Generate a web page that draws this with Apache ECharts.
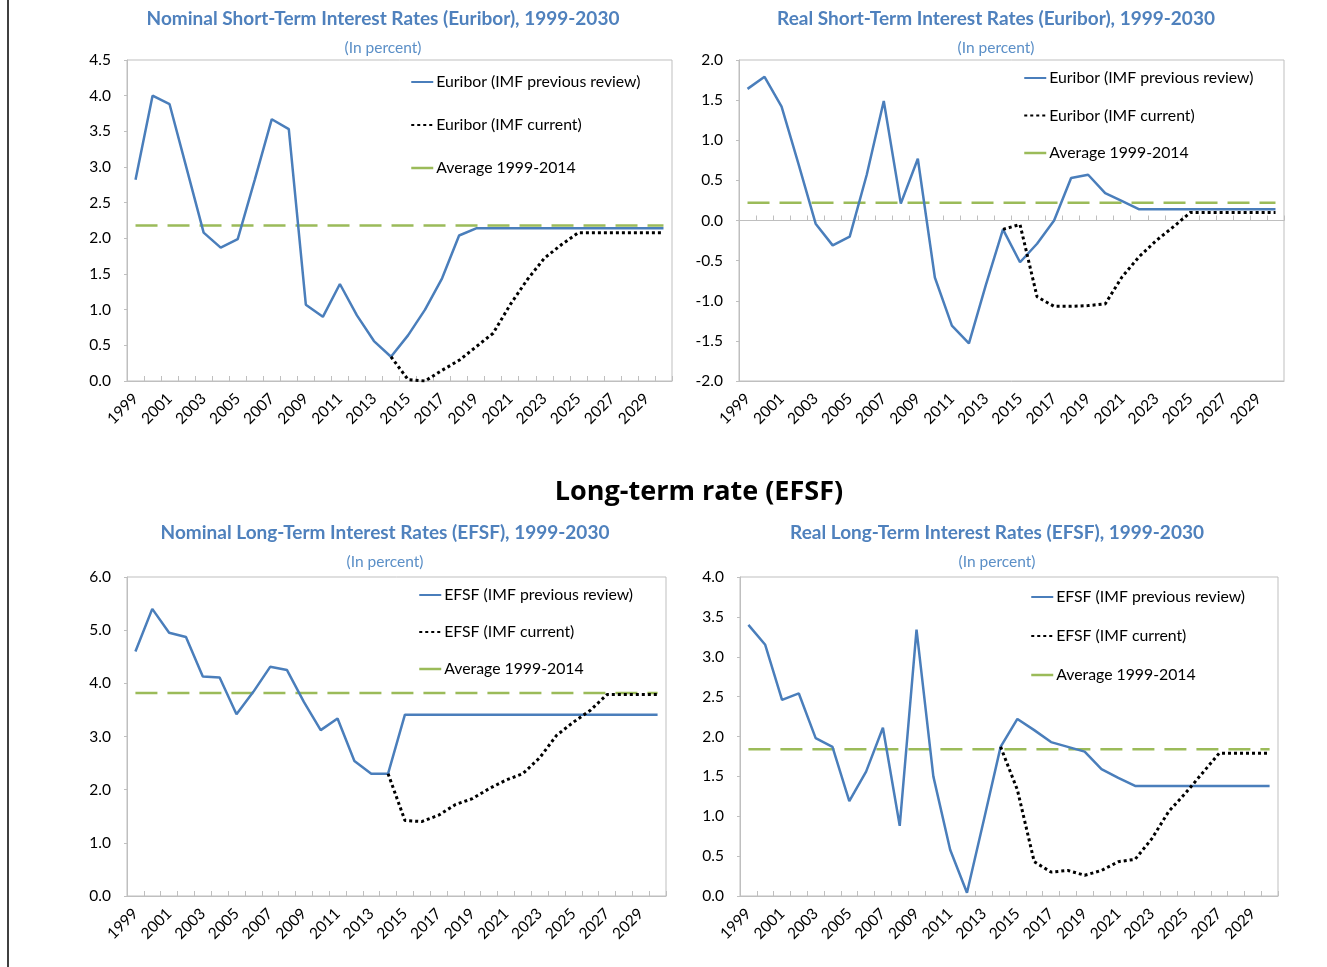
<!DOCTYPE html>
<html>
<head>
<meta charset="utf-8">
<title>Euribor / EFSF interest rates</title>
<script src="https://cdn.jsdelivr.net/npm/echarts@6/dist/echarts.min.js"></script>
<style>
  html, body { margin: 0; padding: 0; background: #fff; }
  #chart { width: 1327px; height: 967px; }
</style>
</head>
<body>
<div id="chart"></div>
<script>
// categories
const years = ['1999', '2000', '2001', '2002', '2003', '2004', '2005', '2006', '2007', '2008',
  '2009', '2010', '2011', '2012', '2013', '2014', '2015', '2016', '2017', '2018', '2019', '2020',
  '2021', '2022', '2023', '2024', '2025', '2026', '2027', '2028', '2029', '2030']

// nominal short-term (Euribor)
const nominalShortPrev = [2.82, 4.00, 3.88, 2.98, 2.08, 1.87, 1.99, 2.82, 3.67, 3.53, 1.07, 0.90,
  1.36, 0.92, 0.56, 0.34, 0.64, 1.00, 1.44, 2.04, 2.14, 2.14, 2.14, 2.14, 2.14, 2.14, 2.14, 2.14,
  2.14, 2.14, 2.14, 2.14]
const nominalShortCurr = [null, null, null, null, null, null, null, null, null, null, null, null,
  null, null, null, 0.34, 0.02, 0.00, 0.15, 0.29, 0.48, 0.67, 1.07, 1.42, 1.72, 1.91, 2.08, 2.08,
  2.08, 2.08, 2.08, 2.08]
const nominalShortAvg = [2.18, 2.18, 2.18, 2.18, 2.18, 2.18, 2.18, 2.18, 2.18, 2.18, 2.18, 2.18,
  2.18, 2.18, 2.18, 2.18, 2.18, 2.18, 2.18, 2.18, 2.18, 2.18, 2.18, 2.18, 2.18, 2.18, 2.18, 2.18,
  2.18, 2.18, 2.18, 2.18]

// real short-term (Euribor)
const realShortPrev = [1.64, 1.79, 1.42, 0.70, -0.04, -0.31, -0.20, 0.57, 1.49, 0.21, 0.77, -0.71,
  -1.31, -1.53, -0.80, -0.11, -0.52, -0.29, 0.00, 0.53, 0.57, 0.34, 0.24, 0.14, 0.14, 0.14, 0.14,
  0.14, 0.14, 0.14, 0.14, 0.14]
const realShortCurr = [null, null, null, null, null, null, null, null, null, null, null, null,
  null, null, null, -0.11, -0.05, -0.95, -1.07, -1.07, -1.06, -1.04, -0.70, -0.45, -0.25, -0.08,
  0.10, 0.10, 0.10, 0.10, 0.10, 0.10]
const realShortAvg = [0.22, 0.22, 0.22, 0.22, 0.22, 0.22, 0.22, 0.22, 0.22, 0.22, 0.22, 0.22,
  0.22, 0.22, 0.22, 0.22, 0.22, 0.22, 0.22, 0.22, 0.22, 0.22, 0.22, 0.22, 0.22, 0.22, 0.22, 0.22,
  0.22, 0.22, 0.22, 0.22]

// nominal long-term (EFSF)
const nominalLongPrev = [4.60, 5.40, 4.95, 4.87, 4.13, 4.11, 3.42, 3.84, 4.31, 4.25, 3.65, 3.12,
  3.34, 2.54, 2.30, 2.30, 3.41, 3.41, 3.41, 3.41, 3.41, 3.41, 3.41, 3.41, 3.41, 3.41, 3.41, 3.41,
  3.41, 3.41, 3.41, 3.41]
const nominalLongCurr = [null, null, null, null, null, null, null, null, null, null, null, null,
  null, null, null, 2.30, 1.42, 1.40, 1.52, 1.72, 1.83, 2.02, 2.18, 2.30, 2.60, 3.02, 3.27, 3.49,
  3.79, 3.79, 3.79, 3.79]
const nominalLongAvg = [3.82, 3.82, 3.82, 3.82, 3.82, 3.82, 3.82, 3.82, 3.82, 3.82, 3.82, 3.82,
  3.82, 3.82, 3.82, 3.82, 3.82, 3.82, 3.82, 3.82, 3.82, 3.82, 3.82, 3.82, 3.82, 3.82, 3.82, 3.82,
  3.82, 3.82, 3.82, 3.82]

// real long-term (EFSF)
const realLongPrev = [3.40, 3.15, 2.46, 2.54, 1.98, 1.87, 1.19, 1.56, 2.11, 0.88, 3.34, 1.50,
  0.58, 0.04, 0.95, 1.87, 2.22, 2.08, 1.93, 1.87, 1.81, 1.59, 1.48, 1.38, 1.38, 1.38, 1.38, 1.38,
  1.38, 1.38, 1.38, 1.38]
const realLongCurr = [null, null, null, null, null, null, null, null, null, null, null, null,
  null, null, null, 1.87, 1.33, 0.43, 0.30, 0.32, 0.26, 0.32, 0.43, 0.46, 0.72, 1.06, 1.29, 1.54,
  1.79, 1.79, 1.79, 1.79]
const realLongAvg = [1.84, 1.84, 1.84, 1.84, 1.84, 1.84, 1.84, 1.84, 1.84, 1.84, 1.84, 1.84,
  1.84, 1.84, 1.84, 1.84, 1.84, 1.84, 1.84, 1.84, 1.84, 1.84, 1.84, 1.84, 1.84, 1.84, 1.84, 1.84,
  1.84, 1.84, 1.84, 1.84]

// y axis ranges: [min, max, interval]
const nominalShortAxis = [0, 4.5, 0.5]
const realShortAxis = [-2, 2, 0.5]
const nominalLongAxis = [0, 6, 1]
const realLongAxis = [0, 4, 0.5]

const BLUE = '#4A7EBB'
const GREEN = '#9BBB59'
const FRAME = '#BFBFBF'
const FONT = 'Lato, "Noto Sans", sans-serif'

const panels = [
  {
    title: 'Nominal Short-Term Interest Rates (Euribor), 1999-2030', cx: 383, ty: 19, sy: 48,
    grid: { left: 127, top: 60, width: 545, height: 321 },
    axis: nominalShortAxis, names: ['Euribor (IMF previous review)', 'Euribor (IMF current)'],
    prev: nominalShortPrev, curr: nominalShortCurr, avg: nominalShortAvg,
    legend: { left: 410, top: 74, itemGap: 27 }
  },
  {
    title: 'Real Short-Term Interest Rates (Euribor), 1999-2030', cx: 996, ty: 19, sy: 48,
    grid: { left: 739, top: 60, width: 545, height: 321 },
    axis: realShortAxis, names: ['Euribor (IMF previous review)', 'Euribor (IMF current)'],
    prev: realShortPrev, curr: realShortCurr, avg: realShortAvg,
    legend: { left: 1023, top: 70, itemGap: 21.5 }, zeroLine: true
  },
  {
    title: 'Nominal Long-Term Interest Rates (EFSF), 1999-2030', cx: 385, ty: 533, sy: 562,
    grid: { left: 127, top: 577, width: 539, height: 319 },
    axis: nominalLongAxis, names: ['EFSF (IMF previous review)', 'EFSF (IMF current)'],
    prev: nominalLongPrev, curr: nominalLongCurr, avg: nominalLongAvg,
    legend: { left: 418, top: 587, itemGap: 21 }
  },
  {
    title: 'Real Long-Term Interest Rates (EFSF), 1999-2030', cx: 997, ty: 533, sy: 562,
    grid: { left: 740, top: 577, width: 538, height: 319 },
    axis: realLongAxis, names: ['EFSF (IMF previous review)', 'EFSF (IMF current)'],
    prev: realLongPrev, curr: realLongCurr, avg: realLongAvg,
    legend: { left: 1030, top: 589, itemGap: 23 }
  }
]

const option = {
  animation: false,
  backgroundColor: '#fff',
  textStyle: { fontFamily: FONT },
  grid: [],
  xAxis: [],
  yAxis: [],
  legend: [],
  series: [],
  graphic: [
    { type: 'line', shape: { x1: 8, y1: 0, x2: 8, y2: 967 }, style: { stroke: '#000', lineWidth: 1.5 } },
    {
      type: 'text', x: 699, y: 492,
      style: { text: 'Long-term rate (EFSF)', font: 'bold 27px "Open Sans", sans-serif', fill: '#000', textAlign: 'center', textVerticalAlign: 'middle' }
    }
  ]
}

panels.forEach((p, i) => {
  option.grid.push(Object.assign({ show: true, borderColor: FRAME, borderWidth: 1, backgroundColor: 'transparent' }, p.grid))

  option.graphic.push({
    type: 'text', x: p.cx, y: p.ty,
    style: { text: p.title, font: 'bold 19px ' + FONT, fill: '#4F81BD', textAlign: 'center', textVerticalAlign: 'middle' }
  })
  option.graphic.push({
    type: 'text', x: p.cx, y: p.sy,
    style: { text: '(In percent)', font: '15.5px ' + FONT, fill: '#5B8FC7', textAlign: 'center', textVerticalAlign: 'middle' }
  })

  const xIndex = option.xAxis.length
  option.xAxis.push({
    type: 'category',
    gridIndex: i,
    position: 'bottom',
    data: years,
    boundaryGap: true,
    axisLine: { onZero: false, lineStyle: { color: FRAME } },
    axisTick: { show: !p.zeroLine, inside: true, length: 5, interval: 0, lineStyle: { color: FRAME } },
    axisLabel: { interval: 1, rotate: 45, color: '#000', fontSize: 15.5, fontFamily: FONT, margin: 15 },
    splitLine: { show: false }
  })
  if (p.zeroLine) {
    option.xAxis.push({
      type: 'category',
      gridIndex: i,
      position: 'bottom',
      data: years,
      boundaryGap: true,
      axisLine: { onZero: true, lineStyle: { color: FRAME } },
      axisTick: { show: true, inside: true, length: 5, interval: 0, lineStyle: { color: FRAME } },
      axisLabel: { show: false },
      splitLine: { show: false }
    })
  }

  option.yAxis.push({
    type: 'value',
    gridIndex: i,
    min: p.axis[0],
    max: p.axis[1],
    interval: p.axis[2],
    axisLine: { show: true, lineStyle: { color: FRAME } },
    axisTick: { show: true, length: 3, lineStyle: { color: FRAME } },
    axisLabel: { color: '#000', fontSize: 15.5, fontFamily: FONT, margin: 16, formatter: (v) => v.toFixed(1) },
    splitLine: { show: false }
  })

  option.legend.push({
    orient: 'vertical',
    left: p.legend.left,
    top: p.legend.top,
    itemGap: p.legend.itemGap,
    itemWidth: 22,
    itemHeight: 14,
    padding: 0,
    itemStyle: { opacity: 0 },
    textStyle: { color: '#000', fontSize: 15.8, fontFamily: FONT, padding: [0, 0, 0, -2] },
    data: [
      { name: p.names[0] },
      { name: p.names[1] },
      { name: 'Average 1999-2014', lineStyle: { type: 'solid', color: GREEN, width: 2.5 } }
    ]
  })

  option.series.push({
    name: p.names[0], type: 'line', xAxisIndex: xIndex, yAxisIndex: i, data: p.prev,
    symbol: 'none', color: BLUE, lineStyle: { color: BLUE, width: 2.5 }, z: 3
  })
  option.series.push({
    name: p.names[1], type: 'line', xAxisIndex: xIndex, yAxisIndex: i, data: p.curr,
    symbol: 'none', color: '#000', lineStyle: { color: '#000', width: 3, type: [3, 3] }, z: 4
  })
  option.series.push({
    name: 'Average 1999-2014', type: 'line', xAxisIndex: xIndex, yAxisIndex: i, data: p.avg,
    symbol: 'none', color: GREEN, lineStyle: { color: GREEN, width: 2.5, type: [22, 10] }, z: 2
  })
})

const myChart = echarts.init(document.getElementById('chart'), null, { renderer: 'canvas' })
myChart.setOption(option)
</script>
</body>
</html>
